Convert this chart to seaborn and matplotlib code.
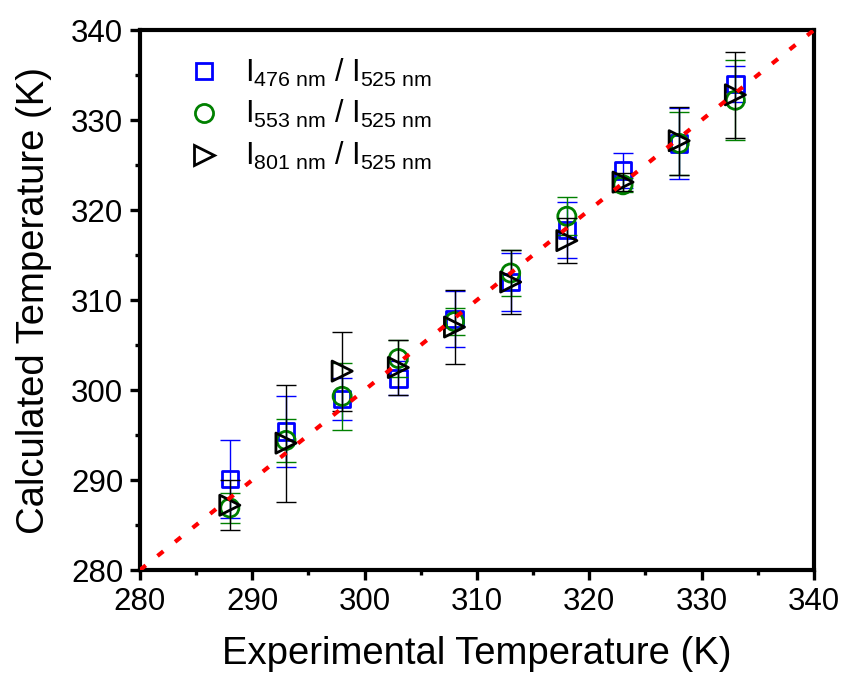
import numpy as np
import pandas as pd
import matplotlib
matplotlib.use("Agg")
import matplotlib.pyplot as plt
from matplotlib.lines import Line2D
import seaborn as sns

# Experimental (set) temperatures, K
exp_temp = [288, 293, 298, 303, 308, 313, 318, 323, 328, 333]

# Calculated temperatures and uncertainties for each intensity ratio
t_476 = [290.1, 295.4, 299.0, 301.3, 307.9, 312.0, 317.8, 324.4, 327.4, 334.0]
e_476 = [4.3, 3.9, 2.3, 1.9, 3.1, 3.2, 3.1, 1.9, 3.9, 2.0]
t_553 = [286.9, 294.4, 299.3, 303.5, 307.6, 313.0, 319.3, 322.8, 327.4, 332.2]
e_553 = [1.7, 2.4, 3.7, 2.1, 1.5, 2.6, 2.1, 0.8, 3.5, 4.45]
t_801 = [287.2, 294.1, 302.1, 302.5, 307.0, 312.0, 316.6, 323.1, 327.7, 332.8]
e_801 = [2.8, 6.5, 4.4, 3.1, 4.1, 3.6, 2.5, 1.0, 3.8, 4.8]

labels = [r"I$_{476\ nm}$ / I$_{525\ nm}$",
          r"I$_{553\ nm}$ / I$_{525\ nm}$",
          r"I$_{801\ nm}$ / I$_{525\ nm}$"]
colors = ["#0000FF", "#008000", "#000000"]
markers = ["s", "o", ">"]
sizes = [140, 170, 210]

line_x = [280, 340]

sns.set_style("ticks")
plt.rcParams["font.family"] = ["Liberation Sans", "DejaVu Sans"]
plt.rcParams["mathtext.fontset"] = "custom"
plt.rcParams["mathtext.rm"] = "Liberation Sans"
plt.rcParams["mathtext.it"] = "Liberation Sans:italic"
plt.rcParams["mathtext.default"] = "regular"
plt.rcParams["text.color"] = "black"
plt.rcParams["axes.labelcolor"] = "black"
plt.rcParams["xtick.color"] = "black"
plt.rcParams["ytick.color"] = "black"
plt.rcParams["axes.edgecolor"] = "black"

fig = plt.figure(figsize=(8.43, 6.79), dpi=100)
ax = fig.add_axes([0.166, 0.1605, 0.7996, 0.7953])

series = [(t_476, e_476), (t_553, e_553), (t_801, e_801)]
handles = []
for i, ((vals, errs), lab, col, mk, sz) in enumerate(
        zip(series, labels, colors, markers, sizes)):
    df = pd.DataFrame({"exp": exp_temp, "calc": vals, "err": errs})
    ax.errorbar(df["exp"], df["calc"], yerr=df["err"], fmt="none",
                ecolor=col, elinewidth=1.0, capsize=7.5, capthick=1.0,
                zorder=2 + 2 * i)
    sns.scatterplot(data=df, x="exp", y="calc", ax=ax, marker=mk, s=sz,
                    facecolors="none", edgecolor=col, linewidth=2.0,
                    legend=False, zorder=3 + 2 * i)
    handles.append(Line2D([], [], ls="none", marker=mk, ms=np.sqrt(sz),
                          mfc="none", mec=col, mew=2.0, label=lab))

# y = x reference line, drawn above the markers
diag = pd.DataFrame({"x": line_x, "y": line_x})
sns.lineplot(data=diag, x="x", y="y", ax=ax, color="#FF0000", lw=3.0,
             dashes=False, zorder=10)
ax.lines[-1].set_dashes((1.8, 3.6))

ax.set_xlim(280, 340)
ax.set_ylim(280, 340)
ax.set_xticks(np.arange(280, 341, 10))
ax.set_yticks(np.arange(280, 341, 10))
ax.set_xticks(np.arange(285, 340, 10), minor=True)
ax.set_yticks(np.arange(285, 340, 10), minor=True)
ax.tick_params(which="major", direction="out", length=7, width=2.4,
               labelsize=22.5, pad=5)
ax.tick_params(which="minor", direction="out", length=3.5, width=2.4)
for sp in ax.spines.values():
    sp.set_linewidth(3.0)
    sp.set_visible(True)
    sp.set_color("black")

ax.set_xlabel("Experimental Temperature (K)", fontsize=27.5, labelpad=14)
ax.set_ylabel("Calculated Temperature (K)", fontsize=27.5, labelpad=14)

leg = ax.legend(handles=handles, loc="upper left", frameon=False, fontsize=22,
                bbox_to_anchor=(0.045, 0.985), handlelength=1.0,
                handletextpad=0.85, labelspacing=0.32, borderaxespad=0.2)

fig.savefig("out.png", dpi=100)
